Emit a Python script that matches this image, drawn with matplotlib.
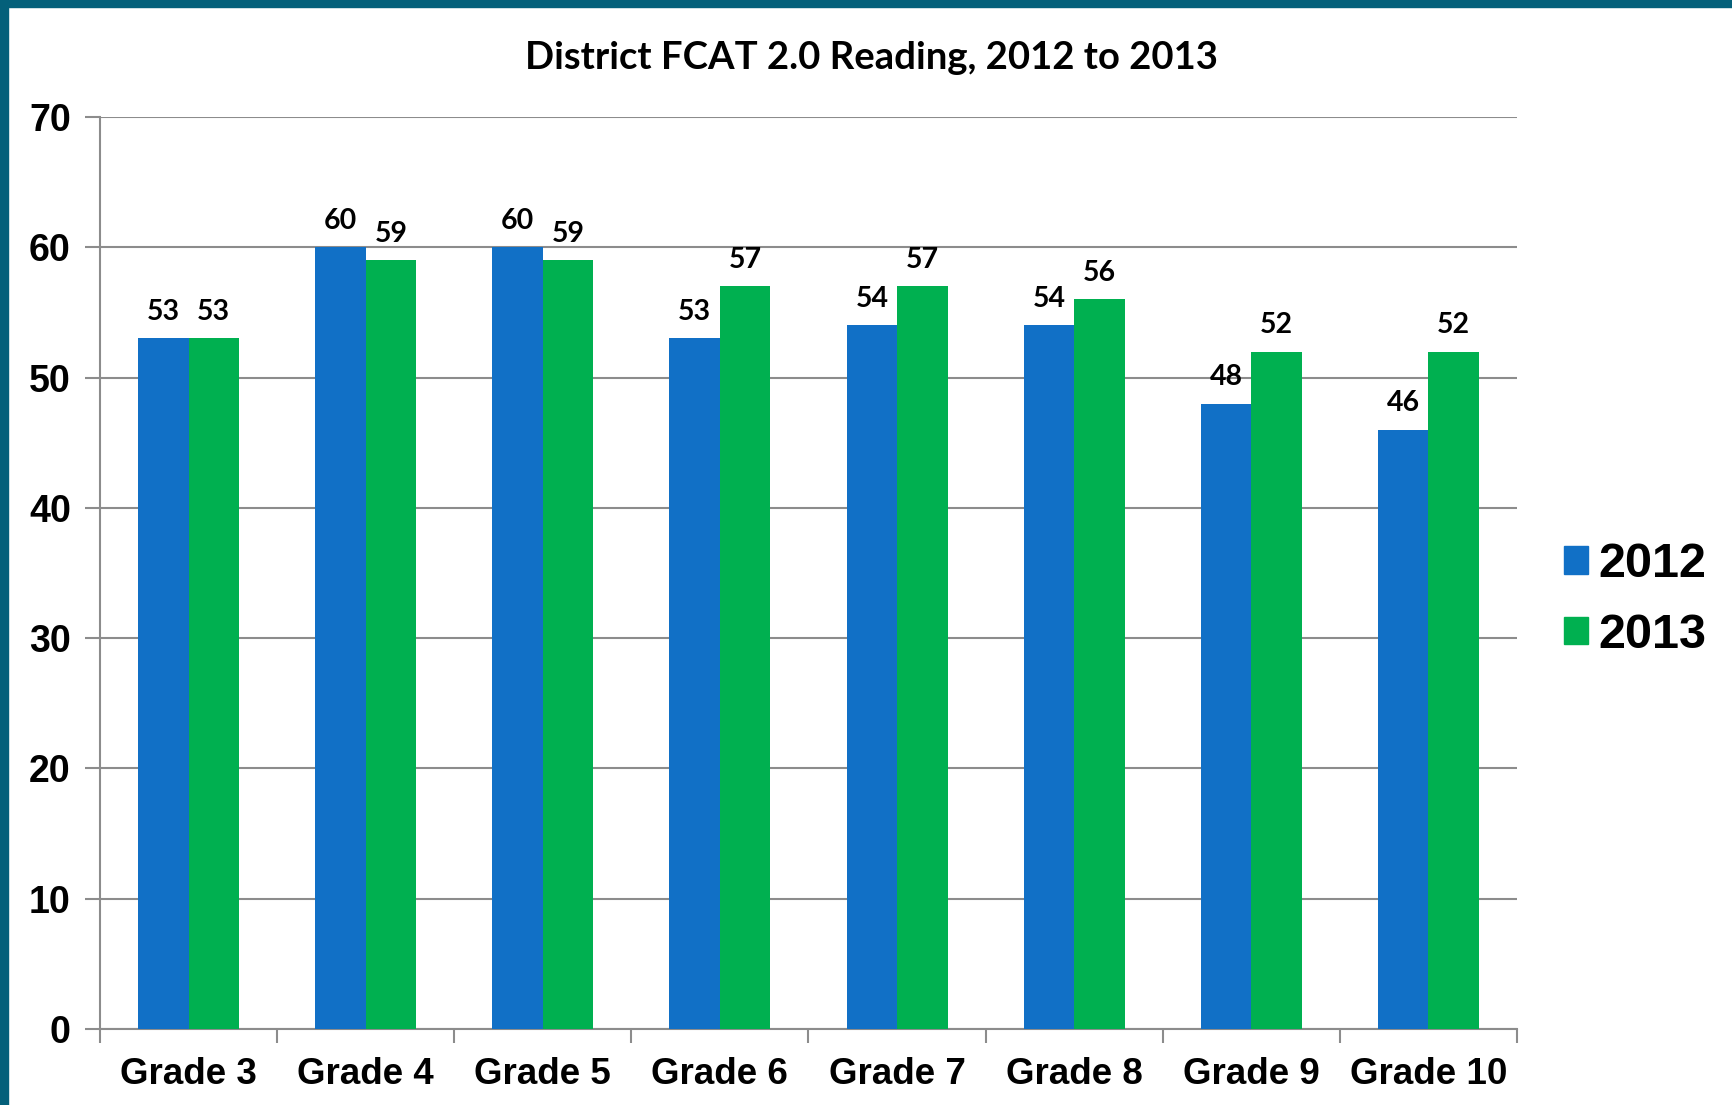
"""District FCAT 2.0 Reading, 2012 vs 2013 grouped bar chart."""

import matplotlib

matplotlib.use("Agg")

import matplotlib.pyplot as plt
import numpy as np
from matplotlib.patches import Patch, Rectangle

GRADES = ["Grade 3", "Grade 4", "Grade 5", "Grade 6", "Grade 7", "Grade 8", "Grade 9", "Grade 10"]
SCORES_2012 = [53, 60, 60, 53, 54, 54, 48, 46]
SCORES_2013 = [53, 59, 59, 57, 57, 56, 52, 52]
SERIES = (("2012", SCORES_2012, "#1170C6"), ("2013", SCORES_2013, "#00B050"))
Y_TICKS = [0, 10, 20, 30, 40, 50, 60, 70]

GRID_GRAY = "#8C8C8C"
FRAME_TEAL = "#04607A"
ARIAL = "Liberation Sans"
CALIBRI = "Lato"

W, H = 1733, 1105
fig = plt.figure(figsize=(W / 100, H / 100), dpi=100)
ax = fig.add_axes([100 / W, 1 - 1029 / H, (1517 - 100) / W, (1029 - 117) / H])

x = np.arange(len(GRADES))
bar_w = 0.285
for i, (label, values, color) in enumerate(SERIES):
    offset = (i - 0.5) * bar_w
    bars = ax.bar(x + offset, values, bar_w, color=color, label=label, zorder=3)
    for rect, v in zip(bars, values):
        ax.annotate(
            f"{v}",
            (rect.get_x() + rect.get_width() / 2, v),
            xytext=(0, 9.5),
            textcoords="offset points",
            ha="center",
            va="bottom",
            fontsize=20.5,
            fontweight="bold",
            family=CALIBRI,
        )

ax.set_xlim(-0.5, len(GRADES) - 0.5)
ax.set_ylim(0, 70)
ax.set_yticks(Y_TICKS)
ax.set_yticklabels([str(t) for t in Y_TICKS], fontsize=27, fontweight="bold", family=ARIAL)
ax.yaxis.grid(True, color=GRID_GRAY, linewidth=1.5, zorder=0)
ax.tick_params(axis="y", length=11, width=1.5, color=GRID_GRAY, pad=10)

ax.set_xticks(x)
ax.set_xticklabels(GRADES, fontsize=26.5, fontweight="bold", family=ARIAL)
ax.set_xticks(np.arange(len(GRADES) + 1) - 0.5, minor=True)
ax.tick_params(axis="x", which="major", length=0, pad=20.5)
ax.tick_params(axis="x", which="minor", length=10, width=1.5, color=GRID_GRAY)

for side in ("top", "right"):
    ax.spines[side].set_visible(False)
for side in ("left", "bottom"):
    ax.spines[side].set_color(GRID_GRAY)
    ax.spines[side].set_linewidth(1.5)

fig.text(871 / W, 1 - 58 / H, "District FCAT 2.0 Reading, 2012 to 2013",
         ha="center", va="center", fontsize=27.5, fontweight="bold", family=CALIBRI)

handles = [Patch(color=c, label=l) for l, _, c in SERIES]
fig.legend(
    handles=handles,
    loc="center left",
    bbox_to_anchor=(1564 / W, 1 - 600 / H),
    frameon=False,
    prop={"family": ARIAL, "weight": "bold", "size": 35},
    handlelength=0.5,
    handleheight=0.5,
    handletextpad=0.2,
    labelspacing=0.52,
    borderpad=0,
    borderaxespad=0,
)

# teal slide frame on the left and top edges
fig.patches.append(Rectangle((0, 0), 8 / W, 1, transform=fig.transFigure, color=FRAME_TEAL, zorder=10))
fig.patches.append(Rectangle((0, 1 - 7 / H), 1, 7 / H, transform=fig.transFigure, color=FRAME_TEAL, zorder=10))

fig.savefig("out.png", dpi=100)
